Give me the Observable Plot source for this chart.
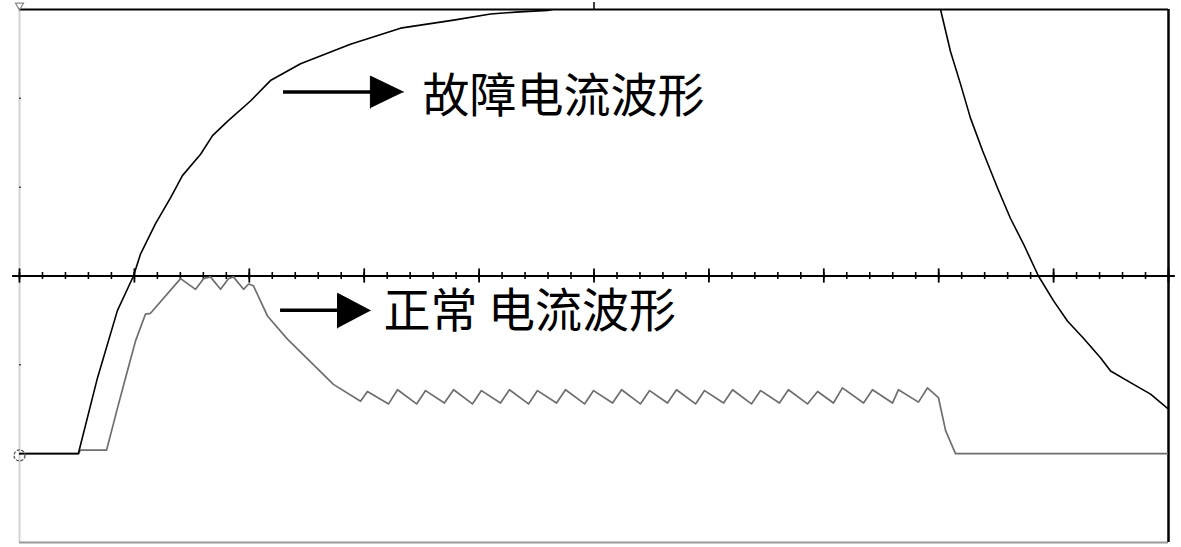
<!DOCTYPE html>
<html>
<head>
<meta charset="utf-8">
<script src="https://cdn.jsdelivr.net/npm/d3@7"></script>
<script src="https://cdn.jsdelivr.net/npm/@observablehq/plot@0.6"></script>
<style>
  html, body { margin: 0; padding: 0; background: #fff; }
  #chart svg { display: block; }
</style>
</head>
<body>
<div id="chart"></div>
<script>
// Time axis in grid divisions (50 minor divisions), current in grid units (-3..3)
const minorTicks = [0,1,2,3,4,5,6,7,8,9,10,11,12,13,14,15,16,17,18,19,20,21,22,23,24,25,26,27,28,29,30,31,32,33,34,35,36,37,38,39,40,41,42,43,44,45,46,47,48,49,50];
const majorTicks = [0,5,10,15,20,25,30,35,40,45,50];
const yTicks = [-3,-2,-1,0,1,2,3];

// Fault current waveform (black)
const faultT = [0, 2.57, 2.57, 3.39, 4.26, 4.96, 5.27, 5.92, 6.57, 7.09, 7.88, 8.40, 9.05, 10.05, 10.92, 12.23, 14.40, 16.58, 18.89, 20.50, 21.58, 22.98, 26.0, 32.0, 38.0, 40.08, 40.51, 40.95, 41.38, 41.91, 42.56, 43.12, 43.69, 44.34, 45.00, 45.61, 46.30, 47.04, 47.48, 48.48, 49.22, 49.96, 50];
const faultI = [-2.0, -2.0, -1.99, -1.15, -0.39, 0, 0.25, 0.59, 0.88, 1.13, 1.37, 1.58, 1.74, 1.97, 2.20, 2.39, 2.61, 2.79, 2.88, 2.95, 2.97, 2.99, 3.15, 3.35, 3.2, 3.0, 2.53, 2.16, 1.78, 1.41, 0.99, 0.65, 0.36, 0, -0.28, -0.51, -0.70, -0.92, -1.07, -1.22, -1.33, -1.49, -1.49];

// Normal current waveform (grey)
const normalT = [0, 2.57, 2.65, 3.79, 4.26, 4.61, 5.05, 5.48, 5.70, 7.01, 7.66, 8.01, 8.31, 8.75, 9.09, 9.31, 9.75, 9.97, 10.18, 10.79, 11.66, 13.66,
  14.84, 15.14, 16.06, 16.45, 17.28, 17.67, 18.49, 18.89, 19.71, 20.10, 20.93, 21.32, 22.15, 22.54, 23.37, 23.76, 24.59, 24.98, 25.81, 26.20,
  27.02, 27.42, 28.20, 28.59, 29.42, 29.81, 30.64, 31.03, 31.85, 32.25, 33.07, 33.46, 34.29, 34.73, 35.42, 35.81, 36.73, 37.12, 37.99, 38.25,
  39.12, 39.51, 39.99, 40.30, 40.73, 50];
const normalI = [-2.0, -2.0, -1.96, -1.96, -1.49, -1.15, -0.73, -0.43, -0.42, -0.03, -0.15, -0.03, -0.01, -0.15, -0.03, -0.01, -0.15, -0.09, -0.11, -0.45, -0.71, -1.22,
  -1.41, -1.30, -1.44, -1.28, -1.44, -1.29, -1.43, -1.28, -1.44, -1.29, -1.43, -1.28, -1.44, -1.29, -1.43, -1.28, -1.44, -1.29, -1.43, -1.28,
  -1.44, -1.29, -1.43, -1.28, -1.44, -1.29, -1.43, -1.28, -1.44, -1.29, -1.43, -1.28, -1.44, -1.30, -1.43, -1.26, -1.43, -1.28, -1.43, -1.28,
  -1.42, -1.26, -1.37, -1.74, -2.0, -2.0];

// Annotation labels and arrows
const labelText = ["故障电流波形", "正常 电流波形"];
const labelT = [17.54, 15.84];
const labelI = [2.04, -0.38];
const arrowShaftT1 = [11.49, 11.36];
const arrowShaftT2 = [15.4, 14.0];
const arrowShaftI = [2.07, -0.385];
const arrowHeadT = [[16.71, 15.27, 15.27], [15.27, 13.84, 13.84]];
const arrowHeadI = [[2.07, 2.25, 1.89], [-0.39, -0.195, -0.585]];

const faultData = faultT.map((t, i) => ({t, v: faultI[i]}));
const normalData = normalT.map((t, i) => ({t, v: normalI[i]}));
const labels = labelText.map((s, i) => ({s, t: labelT[i], v: labelI[i]}));
const shafts = arrowShaftI.map((v, i) => ({t1: arrowShaftT1[i], t2: arrowShaftT2[i], v}));
const heads = arrowHeadT.flatMap((ts, k) => ts.map((t, j) => ({k, t, v: arrowHeadI[k][j]})));

const chart = Plot.plot({
  width: 1181,
  height: 547,
  marginLeft: 19,
  marginRight: 13,
  marginTop: 9,
  marginBottom: 5,
  x: {domain: [0, 50], axis: null},
  y: {domain: [-3, 3], axis: null},
  style: {background: "#fff", fontFamily: "'Noto Sans CJK SC', sans-serif"},
  marks: [
    // frame
    Plot.ruleX([0], {stroke: "#d4d4d4", strokeWidth: 2}),
    Plot.ruleY([-3], {stroke: "#9a9a9a", strokeWidth: 2}),
    Plot.ruleY([3], {stroke: "#000", strokeWidth: 2.2}),
    Plot.ruleX([50], {stroke: "#000", strokeWidth: 2.5}),
    // left small ticks
    Plot.ruleY(yTicks.slice(1, -1), {x1: 0, x2: 0.08, stroke: "#444", strokeWidth: 1.5}),
    // top centre tick
    Plot.ruleX([25], {y1: 3, y2: 3.08, stroke: "#000", strokeWidth: 1.5, clip: false}),
    // zero axis with ticks
    Plot.ruleY([0], {x1: -0.3, x2: 50.3, stroke: "#000", strokeWidth: 2}),
    Plot.ruleX(minorTicks, {y1: -0.04, y2: 0.04, stroke: "#000", strokeWidth: 1.6}),
    Plot.ruleX(majorTicks, {y1: -0.08, y2: 0.08, stroke: "#000", strokeWidth: 1.8}),
    // waveforms
    Plot.line(normalData, {x: "t", y: "v", stroke: "#6e6e6e", strokeWidth: 1.7, clip: true}),
    Plot.line(faultData, {x: "t", y: "v", stroke: "#000", strokeWidth: 1.6, clip: true}),
    // origin marker
    Plot.dot([{t: 0, v: -2.02}], {x: "t", y: "v", r: 5.5, stroke: "#555", strokeWidth: 1.3, strokeDasharray: "3,1.5", fill: "none"}),
    Plot.dot([{t: 0, v: 3}], {x: "t", y: "v", dy: -4, symbol: "triangle", rotate: 180, r: 3, stroke: "#888", fill: "none", strokeWidth: 1.2}),
    // arrows
    Plot.ruleY(shafts, {x1: "t1", x2: "t2", y: "v", stroke: "#000", strokeWidth: 3.5}),
    Plot.line(heads, {x: "t", y: "v", z: "k", fill: "#000", stroke: "#000", strokeWidth: 1}),
    // labels
    Plot.text(labels, {x: "t", y: "v", text: "s", textAnchor: "start", fontSize: 47, fill: "#000", fontFamily: "'Noto Sans CJK SC'", dy: 2})
  ]
});
document.getElementById("chart").appendChild(chart);
</script>
</body>
</html>
